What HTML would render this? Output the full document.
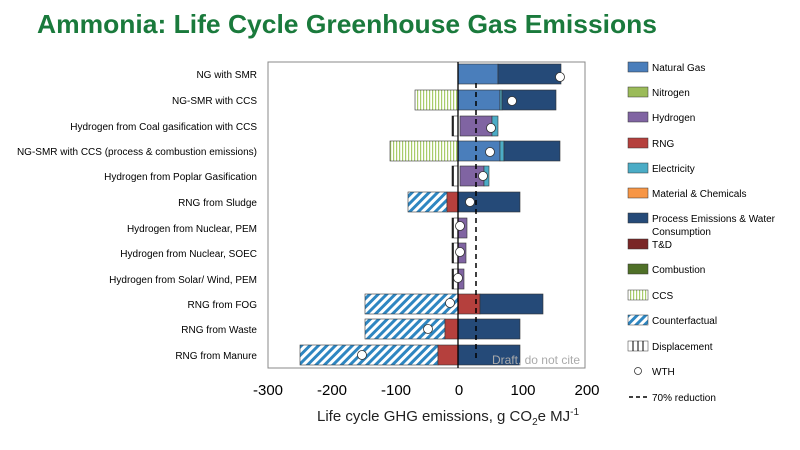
<!DOCTYPE html>
<html><head><meta charset="utf-8"><style>
body{margin:0;background:#fff;width:800px;height:450px;overflow:hidden}
svg{display:block}
text{font-family:"Liberation Sans",sans-serif}
</style></head><body>
<svg width="800" height="450" viewBox="0 0 800 450">
<defs>
<pattern id="ccs" width="3" height="10" patternUnits="userSpaceOnUse"><rect width="3" height="10" fill="#fff"/><rect width="1.2" height="10" fill="#a8cc6a"/></pattern>
<pattern id="cf" width="6" height="6" patternUnits="userSpaceOnUse" patternTransform="rotate(45)"><rect width="6" height="6" fill="#fff"/><rect width="3" height="6" fill="#2e86c1"/></pattern>
</defs>
<text x="37" y="33" font-size="26" font-weight="bold" fill="#1a7a3c" textLength="620" lengthAdjust="spacingAndGlyphs">Ammonia: Life Cycle Greenhouse Gas Emissions</text>
<rect x="268" y="62" width="317" height="306" fill="#fff" stroke="#888" stroke-width="1"/>
<g font-size="10" fill="#000" text-anchor="end">
<text x="257" y="78">NG with SMR</text>
<text x="257" y="104">NG-SMR with CCS</text>
<text x="257" y="130">Hydrogen from Coal gasification with CCS</text>
<text x="257" y="155">NG-SMR with CCS (process &amp; combustion emissions)</text>
<text x="257" y="180">Hydrogen from Poplar Gasification</text>
<text x="257" y="206">RNG from Sludge</text>
<text x="257" y="232">Hydrogen from Nuclear, PEM</text>
<text x="257" y="257">Hydrogen from Nuclear, SOEC</text>
<text x="257" y="283">Hydrogen from Solar/ Wind, PEM</text>
<text x="257" y="308">RNG from FOG</text>
<text x="257" y="333">RNG from Waste</text>
<text x="257" y="359">RNG from Manure</text>
</g>
<g stroke="#333" stroke-width="0.6">
<rect x="458" y="64" width="40" height="20" fill="#4a7ebb"/><rect x="498" y="64" width="63" height="20" fill="#254a78"/>
<rect x="415" y="90" width="43" height="20" fill="url(#ccs)"/><rect x="458" y="90" width="42" height="20" fill="#4a7ebb"/><rect x="500" y="90" width="2" height="20" fill="#4bacc6"/><rect x="502" y="90" width="54" height="20" fill="#254a78"/>
<rect x="452" y="116" width="6" height="20" fill="#fff"/><rect x="460" y="116" width="32" height="20" fill="#8064a2"/><rect x="492" y="116" width="6" height="20" fill="#4bacc6"/>
<rect x="390" y="141" width="68" height="20" fill="url(#ccs)"/><rect x="458" y="141" width="42" height="20" fill="#4a7ebb"/><rect x="500" y="141" width="4" height="20" fill="#4bacc6"/><rect x="504" y="141" width="56" height="20" fill="#254a78"/>
<rect x="452" y="166" width="6" height="20" fill="#fff"/><rect x="460" y="166" width="24" height="20" fill="#8064a2"/><rect x="484" y="166" width="5" height="20" fill="#4bacc6"/>
<rect x="408" y="192" width="39" height="20" fill="url(#cf)"/><rect x="447" y="192" width="11" height="20" fill="#b5403d"/><rect x="458" y="192" width="62" height="20" fill="#254a78"/>
<rect x="452" y="218" width="6" height="20" fill="#fff"/><rect x="458" y="218" width="9" height="20" fill="#8064a2"/>
<rect x="452" y="243" width="6" height="20" fill="#fff"/><rect x="458" y="243" width="8" height="20" fill="#8064a2"/>
<rect x="452" y="269" width="6" height="20" fill="#fff"/><rect x="458" y="269" width="6" height="20" fill="#8064a2"/>
<rect x="365" y="294" width="93" height="20" fill="url(#cf)"/><rect x="458" y="294" width="22" height="20" fill="#b5403d"/><rect x="480" y="294" width="63" height="20" fill="#254a78"/>
<rect x="365" y="319" width="80" height="20" fill="url(#cf)"/><rect x="445" y="319" width="13" height="20" fill="#b5403d"/><rect x="458" y="319" width="62" height="20" fill="#254a78"/>
<rect x="300" y="345" width="138" height="20" fill="url(#cf)"/><rect x="438" y="345" width="20" height="20" fill="#b5403d"/><rect x="458" y="345" width="62" height="20" fill="#254a78"/>
</g>
<g stroke="#000" stroke-width="1.5">
<line x1="453" y1="116" x2="453" y2="136"/><line x1="453" y1="166" x2="453" y2="186"/><line x1="453" y1="218" x2="453" y2="238"/><line x1="453" y1="243" x2="453" y2="263"/><line x1="453" y1="269" x2="453" y2="289"/>
</g>
<line x1="458" y1="62" x2="458" y2="368" stroke="#000" stroke-width="1.3"/>
<line x1="476" y1="83" x2="476" y2="358" stroke="#000" stroke-width="1.5" stroke-dasharray="5,4"/>
<text x="580" y="364" font-size="12" fill="#aaa" text-anchor="end">Draft, do not cite</text>
<g fill="#fff" stroke="#333" stroke-width="0.8">
<circle cx="560" cy="77" r="4.5"/><circle cx="512" cy="101" r="4.5"/><circle cx="491" cy="128" r="4.5"/><circle cx="490" cy="152" r="4.5"/><circle cx="483" cy="176" r="4.5"/><circle cx="470" cy="202" r="4.5"/><circle cx="460" cy="226" r="4.5"/><circle cx="460" cy="252" r="4.5"/><circle cx="458" cy="278" r="4.5"/><circle cx="450" cy="303" r="4.5"/><circle cx="428" cy="329" r="4.5"/><circle cx="362" cy="355" r="4.5"/>
</g>
<g font-size="15" fill="#000" text-anchor="middle">
<text x="268" y="395">-300</text><text x="332" y="395">-200</text><text x="396" y="395">-100</text><text x="459" y="395">0</text><text x="523" y="395">100</text><text x="587" y="395">200</text>
</g>
<text x="317" y="421" font-size="15" fill="#222">Life cycle GHG emissions, g CO<tspan font-size="10" dy="4">2</tspan><tspan dy="-4">e MJ</tspan><tspan font-size="10" dy="-6">-1</tspan></text>
<g font-size="10" fill="#000" stroke="#333" stroke-width="0.5">
<rect x="628" y="62" width="20" height="10" fill="#4a7ebb"/>
<rect x="628" y="87" width="20" height="10" fill="#9bbb59"/>
<rect x="628" y="112" width="20" height="10" fill="#8064a2"/>
<rect x="628" y="138" width="20" height="10" fill="#b5403d"/>
<rect x="628" y="163" width="20" height="10" fill="#4bacc6"/>
<rect x="628" y="188" width="20" height="10" fill="#f79646"/>
<rect x="628" y="213" width="20" height="10" fill="#254a78"/>
<rect x="628" y="239" width="20" height="10" fill="#7a2626"/>
<rect x="628" y="264" width="20" height="10" fill="#4f7028"/>
<rect x="628" y="290" width="20" height="10" fill="url(#ccs)"/>
<rect x="628" y="315" width="20" height="10" fill="url(#cf)"/>
<rect x="628" y="341" width="20" height="10" fill="#fff"/>
</g>
<g stroke="#000" stroke-width="1"><line x1="633" y1="341" x2="633" y2="351"/><line x1="638" y1="341" x2="638" y2="351"/><line x1="643" y1="341" x2="643" y2="351"/></g>
<circle cx="638" cy="371" r="3.5" fill="#fff" stroke="#333" stroke-width="0.8"/>
<line x1="629" y1="397" x2="648" y2="397" stroke="#000" stroke-width="1.5" stroke-dasharray="4,3"/>
<g font-size="10" fill="#000">
<text x="652" y="71">Natural Gas</text><text x="652" y="96">Nitrogen</text><text x="652" y="121">Hydrogen</text><text x="652" y="147">RNG</text><text x="652" y="172">Electricity</text><text x="652" y="197">Material &amp; Chemicals</text><text x="652" y="222">Process Emissions &amp; Water</text><text x="652" y="235">Consumption</text><text x="652" y="248">T&amp;D</text><text x="652" y="273">Combustion</text><text x="652" y="299">CCS</text><text x="652" y="324">Counterfactual</text><text x="652" y="350">Displacement</text><text x="652" y="375">WTH</text><text x="652" y="401">70% reduction</text>
</g>
</svg>
</body></html>
